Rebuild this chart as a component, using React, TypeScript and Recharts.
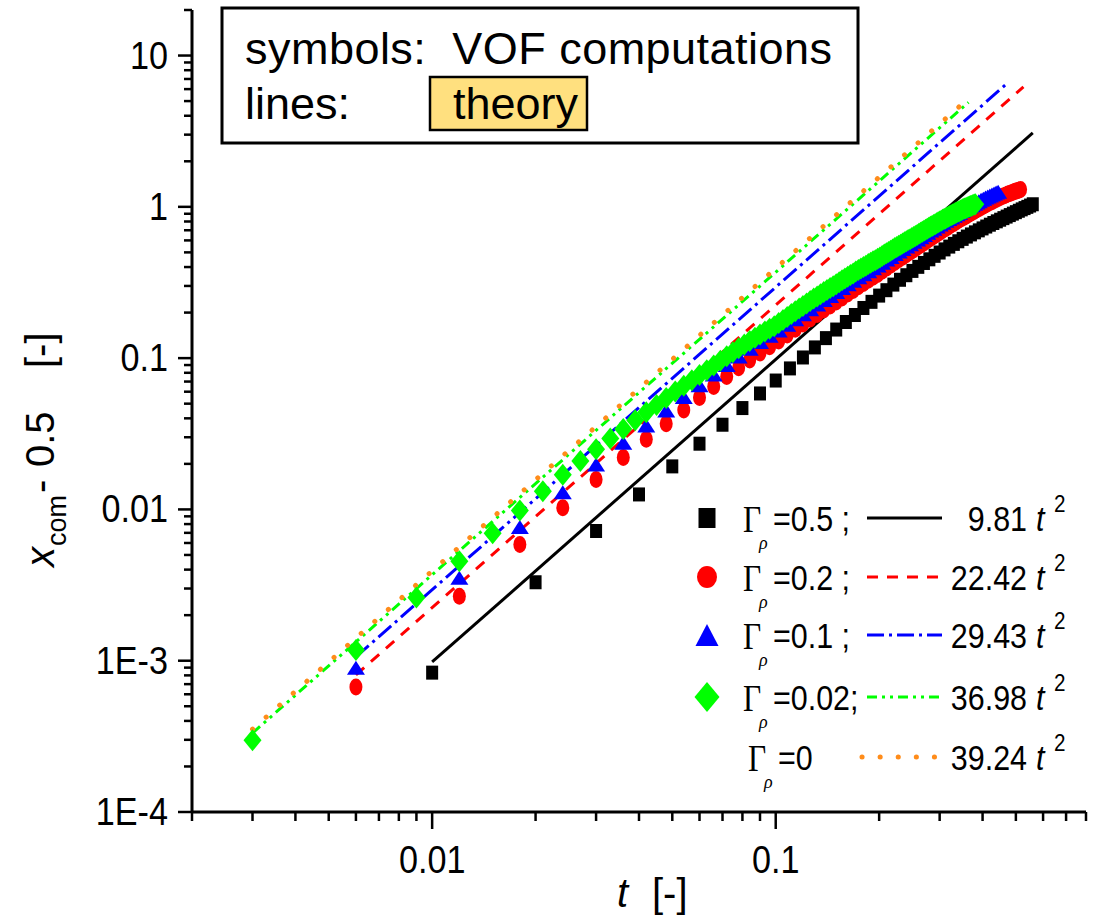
import React from 'react';
import { Scatter, ScatterChart, XAxis, YAxis } from 'recharts';

// sampling times of the VOF runs
const tBlack = [
    0.01, 0.02, 0.03, 0.04, 0.05, 0.06, 0.07, 0.08, 0.09, 0.1, 0.11, 0.12, 0.13, 0.14,
    0.15, 0.16, 0.17, 0.18, 0.19, 0.2, 0.21, 0.22, 0.23, 0.24, 0.25, 0.26, 0.27, 0.28,
    0.29, 0.3, 0.31, 0.32, 0.33, 0.34, 0.35, 0.36, 0.37, 0.38, 0.39, 0.4, 0.41, 0.42,
    0.43, 0.44, 0.45, 0.46, 0.47, 0.48, 0.49, 0.5, 0.51, 0.52, 0.53, 0.54, 0.55, 0.56,
];
const t006 = [
    0.006, 0.012, 0.018, 0.024, 0.03, 0.036, 0.042, 0.048, 0.054, 0.06, 0.066, 0.072,
    0.078, 0.084, 0.09, 0.096, 0.102, 0.108, 0.114, 0.12, 0.126, 0.132, 0.138, 0.144,
    0.15, 0.156, 0.162, 0.168, 0.174, 0.18, 0.186, 0.192, 0.198, 0.204, 0.21, 0.216,
    0.222, 0.228, 0.234, 0.24, 0.246, 0.252, 0.258, 0.264, 0.27, 0.276, 0.282, 0.288,
    0.294, 0.3, 0.306, 0.312, 0.318, 0.324, 0.33, 0.336, 0.342, 0.348, 0.354, 0.36,
    0.366, 0.372, 0.378, 0.384, 0.39, 0.396, 0.402, 0.408, 0.414, 0.42, 0.426, 0.432,
    0.438, 0.444, 0.45, 0.456, 0.462, 0.468, 0.474, 0.48, 0.486, 0.492, 0.498, 0.504,
    0.51, 0.516,
];
const t003 = [
    0.003, 0.006, 0.009, 0.012, 0.015, 0.018, 0.021, 0.024, 0.027, 0.03, 0.033, 0.036,
    0.039, 0.042, 0.045, 0.048, 0.051, 0.054, 0.057, 0.06, 0.063, 0.066, 0.069, 0.072,
    0.075, 0.078, 0.081, 0.084, 0.087, 0.09, 0.093, 0.096, 0.099, 0.102, 0.105, 0.108,
    0.111, 0.114, 0.117, 0.12, 0.123, 0.126, 0.129, 0.132, 0.135, 0.138, 0.141, 0.144,
    0.147, 0.15, 0.153, 0.156, 0.159, 0.162, 0.165, 0.168, 0.171, 0.174, 0.177, 0.18,
    0.183, 0.186, 0.189, 0.192, 0.195, 0.198, 0.201, 0.204, 0.207, 0.21, 0.213, 0.216,
    0.219, 0.222, 0.225, 0.228, 0.231, 0.234, 0.237, 0.24, 0.243, 0.246, 0.249, 0.252,
    0.255, 0.258, 0.261, 0.264, 0.267, 0.27, 0.273, 0.276, 0.279, 0.282, 0.285, 0.288,
    0.291, 0.294, 0.297, 0.3, 0.303, 0.306, 0.309, 0.312, 0.315, 0.318, 0.321, 0.324,
    0.327, 0.33, 0.333, 0.336, 0.339, 0.342, 0.345, 0.348, 0.351, 0.354, 0.357, 0.36,
    0.363, 0.366, 0.369, 0.372, 0.375, 0.378, 0.381,
];

// x_com - 0.5
const vofRho05 = [
    8.34e-4, 3.3e-3, 7.2e-3, 0.01256, 0.01925, 0.02719, 0.03629, 0.04677, 0.0584, 0.0711,
    0.0855, 0.101, 0.1177, 0.1356, 0.1545, 0.1733, 0.1928, 0.2145, 0.2355, 0.259, 0.2812,
    0.3062, 0.3295, 0.3532, 0.3771, 0.4012, 0.4255, 0.4499, 0.4744, 0.4988, 0.5232, 0.546,
    0.569, 0.592, 0.614, 0.636, 0.657, 0.678, 0.699, 0.72, 0.741, 0.762, 0.782, 0.802,
    0.822, 0.842, 0.862, 0.882, 0.902, 0.922, 0.942, 0.962, 0.981, 1.0, 1.02, 1.04,
];
const vofRho02 = [
    6.699e-4, 2.667e-3, 5.862e-3, 0.01025, 0.01574, 0.022, 0.02907, 0.03678, 0.04544,
    0.05488, 0.06495, 0.07555, 0.08634, 0.09729, 0.1081, 0.1188, 0.1297, 0.1423, 0.155,
    0.1679, 0.1812, 0.1945, 0.2079, 0.2213, 0.2346, 0.2499, 0.2654, 0.2803, 0.296, 0.3116,
    0.3273, 0.343, 0.3577, 0.3751, 0.3935, 0.4111, 0.4287, 0.4464, 0.464, 0.483, 0.5006,
    0.5182, 0.5387, 0.5578, 0.577, 0.5978, 0.6169, 0.6378, 0.6569, 0.676, 0.697, 0.7158,
    0.7368, 0.7578, 0.7764, 0.7973, 0.8182, 0.8363, 0.8541, 0.8746, 0.895, 0.9153, 0.9322,
    0.9521, 0.9719, 0.9915, 1.011, 1.03, 1.049, 1.068, 1.082, 1.1, 1.118, 1.136, 1.153,
    1.17, 1.182, 1.198, 1.214, 1.224, 1.239, 1.254, 1.268, 1.276, 1.289, 1.301,
];
const vofRho01 = [
    8.974e-4, 3.53e-3, 7.666e-3, 0.013, 0.01981, 0.02754, 0.03582, 0.04509, 0.05535,
    0.06622, 0.07794, 0.09001, 0.1026, 0.1153, 0.128, 0.1405, 0.1525, 0.1665, 0.1805,
    0.1949, 0.2107, 0.2261, 0.2421, 0.2575, 0.2735, 0.2908, 0.3074, 0.3248, 0.3422, 0.3585,
    0.3757, 0.3927, 0.4096, 0.4274, 0.4478, 0.4668, 0.4873, 0.5064, 0.527, 0.5458, 0.5664,
    0.5868, 0.6092, 0.6297, 0.6522, 0.6748, 0.6974, 0.7177, 0.7402, 0.7628, 0.7854, 0.8079,
    0.8303, 0.8496, 0.8717, 0.8938, 0.9156, 0.9374, 0.9626, 0.984, 1.005, 1.026, 1.047,
    1.068, 1.088, 1.112, 1.132, 1.151, 1.17, 1.189, 1.207, 1.225, 1.242, 1.259,
];
const vofRho002 = [
    2.982e-4, 1.176e-3, 2.621e-3, 4.548e-3, 6.948e-3, 9.849e-3, 0.01318, 0.01693, 0.02089,
    0.02503, 0.0294, 0.03403, 0.03892, 0.0439, 0.04905, 0.05453, 0.06012, 0.06578, 0.07149,
    0.07721, 0.08322, 0.0894, 0.09595, 0.1028, 0.1094, 0.1163, 0.123, 0.1297, 0.1366,
    0.1432, 0.15, 0.1564, 0.1627, 0.1704, 0.1786, 0.1872, 0.1955, 0.2043, 0.2126, 0.221,
    0.2299, 0.2384, 0.2474, 0.2558, 0.2642, 0.2732, 0.2816, 0.2906, 0.2989, 0.3079, 0.3168,
    0.3267, 0.3356, 0.3455, 0.3544, 0.3632, 0.3731, 0.3818, 0.3916, 0.4002, 0.4087, 0.4184,
    0.4267, 0.4362, 0.4443, 0.4538, 0.4617, 0.4725, 0.4833, 0.4925, 0.5033, 0.5124, 0.5232,
    0.534, 0.5429, 0.5536, 0.5624, 0.573, 0.5837, 0.5922, 0.6027, 0.6109, 0.6213, 0.6317,
    0.642, 0.6523, 0.665, 0.6753, 0.6854, 0.6955, 0.7056, 0.7155, 0.7283, 0.7381, 0.7479,
    0.7576, 0.7672, 0.7799, 0.7894, 0.7988, 0.808, 0.8207, 0.8298, 0.8387, 0.8513, 0.8601,
    0.8688, 0.8812, 0.8897, 0.898, 0.9104, 0.9185, 0.9265, 0.9343, 0.9463, 0.9539, 0.9659,
    0.9732, 0.9803, 0.9873, 0.9989, 1.006, 1.012, 1.018, 1.03, 1.036, 1.041,
];

// theory lines: straight on log-log, so only the two end points
const theory981 = [[0.01, 9.81e-4], [0.56, 3.08]];
const theory2242 = [[0.006, 8.07e-4], [0.526, 6.2]];
const theory2943 = [[0.006, 1.06e-3], [0.47, 6.5]];
const theory3698 = [[0.003, 3.33e-4], [0.364, 4.9]];
const theory3924 = [[0.003, 3.53e-4], [0.343, 4.62]];

const xTicks = [
    0.002, 0.003, 0.004, 0.005, 0.006, 0.007, 0.008, 0.009, 0.01, 0.02, 0.03, 0.04, 0.05,
    0.06, 0.07, 0.08, 0.09, 0.1, 0.2, 0.3, 0.4, 0.5, 0.6, 0.7, 0.8,
];
const xLabels: Record<string, string> = { '0.01': '0.01', '0.1': '0.1' };
const yTicks = [
    1e-4, 2e-4, 3e-4, 4e-4, 5e-4, 6e-4, 7e-4, 8e-4, 9e-4, 1e-3, 2e-3, 3e-3, 4e-3, 5e-3, 6e-3,
    7e-3, 8e-3, 9e-3, 0.01, 0.02, 0.03, 0.04, 0.05, 0.06, 0.07, 0.08, 0.09, 0.1, 0.2, 0.3,
    0.4, 0.5, 0.6, 0.7, 0.8, 0.9, 1, 2, 3, 4, 5, 6, 7, 8, 9, 10, 20,
];
const yLabels: Record<string, string> = {
    '0.0001': '1E-4',
    '0.001': '1E-3',
    '0.01': '0.01',
    '0.1': '0.1',
    '1': '1',
    '10': '10',
};

const FONT = '"Liberation Sans", Arial, sans-serif';
const SERIF = '"Liberation Serif", "Times New Roman", serif';

const pts = (ts: number[], vs: number[]) =>
    vs.map((v, i) => ({ t: ts[i], v })).filter((p) => p.t !== undefined);
const seg = (pairs: number[][]) => pairs.map(([t, v]) => ({ t, v }));

// the original text is a little narrow, so squeeze it horizontally
const T = ({ x, y, size, sx = 1, anchor = 'start', italic, family = FONT, children }: any) => (
    <text
        transform={`translate(${x},${y}) scale(${sx},1)`}
        fontSize={size}
        textAnchor={anchor}
        fontStyle={italic ? 'italic' : undefined}
        fontFamily={family}
        fill="#000"
    >
        {children}
    </text>
);

const XTick = ({ x, y, payload }: any) => {
    const label = xLabels[String(payload.value)];
    return (
        <g>
            <line x1={x} y1={y} x2={x} y2={y + (label ? 17 : 9)} stroke="#000" strokeWidth={2.5} />
            {label && (
                <T x={x} y={y + 61} size={38} sx={0.9} anchor="middle">
                    {label}
                </T>
            )}
        </g>
    );
};

const YTick = ({ x, y, payload }: any) => {
    const label = yLabels[String(payload.value)];
    return (
        <g>
            <line x1={x} y1={y} x2={x - (label ? 14 : 8)} y2={y} stroke="#000" strokeWidth={2.5} />
            {label && (
                <T x={x - 24} y={y + 13} size={38} sx={0.9} anchor="end">
                    {label}
                </T>
            )}
        </g>
    );
};

const Square = ({ cx, cy, w = 12, h = 14 }: any) => (
    <rect x={cx - w / 2} y={cy - h / 2} width={w} height={h} fill="#000" />
);
const Dot = ({ cx, cy, rx = 6.5, ry = 8.5 }: any) => (
    <ellipse cx={cx} cy={cy} rx={rx} ry={ry} fill="#ff0000" />
);
const Triangle = ({ cx, cy, w = 18, h = 14 }: any) => (
    <polygon
        points={`${cx},${cy - h / 2} ${cx + w / 2},${cy + h / 2} ${cx - w / 2},${cy + h / 2}`}
        fill="#0000ff"
    />
);
const Diamond = ({ cx, cy, w = 18, h = 22 }: any) => (
    <polygon
        points={`${cx},${cy - h / 2} ${cx + w / 2},${cy} ${cx},${cy + h / 2} ${cx - w / 2},${cy}`}
        fill="#00ff00"
    />
);
const NoMark = () => <g />;

const lines = [
    { name: '9.81', data: theory981, stroke: '#000000', dash: undefined, cap: 'butt' },
    { name: '22.42', data: theory2242, stroke: '#ff0000', dash: '11 9', cap: 'butt' },
    { name: '29.43', data: theory2943, stroke: '#0000ff', dash: '17 5 3 5', cap: 'butt' },
    { name: '36.98', data: theory3698, stroke: '#00ff00', dash: '10 5 3 5 3 5', cap: 'butt' },
    { name: '39.24', data: theory3924, stroke: '#ff8c1a', dash: '0.1 18', cap: 'round' },
];

const legendRows = [
    { y: 518, gamma: '=0.5 ;', coef: '9.81', mark: <Square cx={707} cy={518} w={17} h={20} /> },
    { y: 577, gamma: '=0.2 ;', coef: '22.42', mark: <Dot cx={707} cy={577} rx={10} ry={11} /> },
    { y: 635, gamma: '=0.1 ;', coef: '29.43', mark: <Triangle cx={707} cy={635} w={23} h={22} /> },
    { y: 697, gamma: '=0.02;', coef: '36.98', mark: <Diamond cx={707} cy={697} w={25} h={30} /> },
    { y: 757, gamma: '=0', coef: '39.24', mark: null },
];

const Overlay = () => (
    <svg
        width={1093}
        height={923}
        style={{ position: 'absolute', left: 0, top: 0, pointerEvents: 'none' }}
        fontFamily={FONT}
    >
        {/* note box */}
        <rect x={222} y={8} width={636} height={135} fill="#fff" stroke="#000" strokeWidth={3} />
        <rect x={430} y={77} width={157} height={53} fill="#ffe07f" stroke="#000" strokeWidth={2.5} />
        <text x={245} y={64} fontSize={45} textLength={587} lengthAdjust="spacing" xmlSpace="preserve">
            symbols:  VOF computations
        </text>
        <text x={245} y={119} fontSize={45}>
            lines:
        </text>
        <text x={453} y={119} fontSize={45}>
            theory
        </text>

        {/* axis titles */}
        <g transform="translate(54,567) rotate(-90)" fontSize={40}>
            <text x={0} y={0} fontStyle="italic">
                x
            </text>
            <text x={21} y={12} fontSize={27}>
                com
            </text>
            <text x={74} y={0}>
                -
            </text>
            <text x={100} y={0}>
                0.5
            </text>
            <text x={199} y={0}>
                [-]
            </text>
        </g>
        <text x={617} y={907} fontSize={40} fontStyle="italic">
            t
        </text>
        <text x={652} y={907} fontSize={40}>
            [-]
        </text>

        {/* legend */}
        {legendRows.map((r, i) => {
            const l = lines[i];
            const gx = r.mark ? 743 : 748;
            return (
                <g key={r.coef}>
                    {r.mark}
                    <T x={gx} y={r.y + 14} size={37} sx={0.85} family={SERIF}>
                        Γ
                    </T>
                    <T x={gx + 16} y={r.y + 31} size={18} family={SERIF} italic>
                        ρ
                    </T>
                    <T x={gx + 30} y={r.y + 13} size={35} sx={0.87}>
                        {r.gamma}
                    </T>
                    <line
                        x1={l.cap === 'round' ? 862 : 867}
                        y1={r.y}
                        x2={942}
                        y2={r.y}
                        stroke={l.stroke}
                        strokeWidth={l.cap === 'round' ? 5 : 3}
                        strokeDasharray={l.dash}
                        strokeLinecap={l.cap as any}
                    />
                    <T x={1027} y={r.y + 13} size={35} sx={0.87} anchor="end">
                        {r.coef}
                    </T>
                    <T x={1036} y={r.y + 13} size={35} sx={0.87} italic>
                        t
                    </T>
                    <T x={1054} y={r.y - 6} size={23} sx={0.9}>
                        2
                    </T>
                </g>
            );
        })}
    </svg>
);

export default function App() {
    return (
        <div style={{ position: 'absolute', left: 0, top: 0, width: 1093, height: 923, background: '#fff' }}>
            <ScatterChart width={1093} height={923} margin={{ top: 10, right: 7, bottom: 11, left: 10 }}>
                <XAxis
                    type="number"
                    dataKey="t"
                    scale="log"
                    domain={[0.002, 0.8]}
                    allowDataOverflow
                    ticks={xTicks}
                    interval={0}
                    tick={<XTick />}
                    tickLine={false}
                    tickSize={0}
                    tickMargin={0}
                    height={100}
                    axisLine={{ stroke: '#000', strokeWidth: 3 }}
                />
                <YAxis
                    type="number"
                    dataKey="v"
                    scale="log"
                    domain={[1e-4, 20]}
                    allowDataOverflow
                    ticks={yTicks}
                    interval={0}
                    tick={<YTick />}
                    tickLine={false}
                    tickSize={0}
                    tickMargin={0}
                    width={182}
                    axisLine={{ stroke: '#000', strokeWidth: 3 }}
                />
                {lines.map((l) => (
                    <Scatter
                        key={l.name}
                        data={seg(l.data)}
                        shape={<NoMark />}
                        line={{
                            stroke: l.stroke,
                            strokeWidth: l.cap === 'round' ? 5 : 3,
                            strokeDasharray: l.dash,
                            strokeLinecap: l.cap,
                        }}
                        isAnimationActive={false}
                    />
                ))}
                <Scatter data={pts(tBlack, vofRho05)} shape={<Square />} isAnimationActive={false} />
                <Scatter data={pts(t006, vofRho02)} shape={<Dot />} isAnimationActive={false} />
                <Scatter data={pts(t006, vofRho01)} shape={<Triangle />} isAnimationActive={false} />
                <Scatter data={pts(t003, vofRho002)} shape={<Diamond />} isAnimationActive={false} />
            </ScatterChart>
            <Overlay />
        </div>
    );
}
